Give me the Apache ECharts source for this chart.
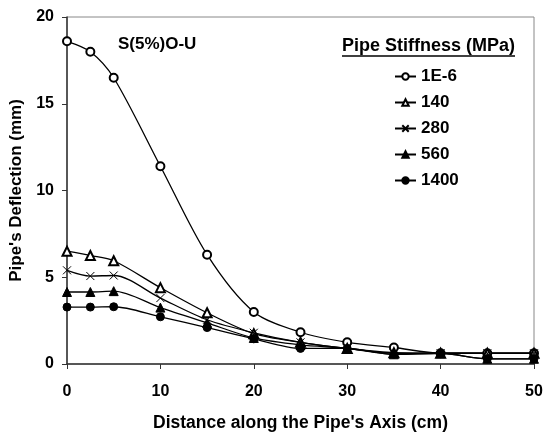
<!DOCTYPE html>
<html>
<head>
<meta charset="utf-8">
<script src="https://cdn.jsdelivr.net/npm/echarts@6/dist/echarts.min.js"></script>
<style>
  html, body { margin: 0; padding: 0; background: #fff; }
  #chart { width: 544px; height: 432px; }
</style>
</head>
<body>
<div id="chart"></div>
<script>
// distance along the pipe axis (cm)
var xData = [0, 2.5, 5, 10, 15, 20, 25, 30, 35, 40, 45, 50];
// deflection (mm) per pipe stiffness
var s1e6 = [18.6, 18.0, 16.5, 11.4, 6.3, 3.0, 1.83, 1.25, 0.95, 0.62, 0.62, 0.62];
var s140 = [6.5, 6.25, 5.95, 4.4, 2.95, 1.75, 1.25, 0.9, 0.65, 0.62, 0.62, 0.62];
var s280 = [5.4, 5.07, 5.1, 3.8, 2.55, 1.8, 1.25, 0.9, 0.62, 0.62, 0.62, 0.62];
var s560 = [4.15, 4.15, 4.2, 3.25, 2.37, 1.5, 1.1, 0.9, 0.56, 0.62, 0.3, 0.3];
var s1400 = [3.28, 3.28, 3.3, 2.72, 2.1, 1.45, 0.9, 0.9, 0.56, 0.62, 0.3, 0.3];
var names = ["1E-6", "140", "280", "560", "1400"];

var font = "'Liberation Sans', Arial, sans-serif";
var crossPath = "path://M0,0L10,10M10,0L0,10";

function pairs(ys) {
  return ys.map(function (y, i) {
    return [xData[i], y];
  });
}

function makeSeries(name, ys, symbol, size) {
  return {
    name: name,
    type: "line",
    smooth: 0.3,
    data: pairs(ys),
    symbol: symbol,
    symbolSize: size,
    showSymbol: true,
    lineStyle: { color: "#000", width: 1.3 },
    itemStyle: { color: "#000", borderColor: "#000", borderWidth: 1 },
    emphasis: { disabled: true },
  };
}

var chart = echarts.init(document.getElementById("chart"));
var option = {
  animation: false,
  title: {
    text: "S(5%)O-U",
    left: 113,
    top: 31,
    textStyle: { fontFamily: font, fontSize: 17, fontWeight: "bold", color: "#000" },
  },
  legend: {
    orient: "vertical",
    left: 389,
    top: 63,
    itemWidth: 21,
    itemHeight: 8,
    itemGap: 9,
    data: names,
    textStyle: { fontFamily: font, fontSize: 17, fontWeight: "bold", color: "#000" },
  },
  grid: {
    left: 67,
    right: 10,
    top: 17,
    bottom: 68,
    outerBoundsMode: "none",
    show: true,
    borderColor: "#888",
    borderWidth: 1,
  },
  xAxis: {
    type: "value",
    min: 0,
    max: 50,
    interval: 10,
    name: "Distance along the Pipe's Axis (cm)",
    nameLocation: "middle",
    nameGap: 50,
    nameTextStyle: { fontFamily: font, fontSize: 17.5, fontWeight: "bold", color: "#000" },
    axisLine: { lineStyle: { color: "#333", width: 1.5 } },
    axisTick: { show: true, length: 5, lineStyle: { color: "#333" } },
    axisLabel: { fontFamily: font, fontSize: 16, fontWeight: "bold", color: "#000", margin: 20 },
    splitLine: { show: false },
  },
  yAxis: {
    type: "value",
    min: 0,
    max: 20,
    interval: 5,
    name: "Pipe's Deflection (mm)",
    nameLocation: "middle",
    nameRotate: 90,
    nameGap: 33,
    nameTextStyle: { fontFamily: font, fontSize: 17, fontWeight: "bold", color: "#000" },
    axisLine: { show: true, lineStyle: { color: "#333", width: 1.5 } },
    axisTick: { show: true, length: 5, lineStyle: { color: "#333" } },
    axisLabel: { fontFamily: font, fontSize: 16, fontWeight: "bold", color: "#000", margin: 13 },
    splitLine: { show: false },
  },
  graphic: [
    {
      type: "text",
      left: 342,
      top: 37,
      style: {
        text: "Pipe Stiffness (MPa)",
        font: "bold 18px " + font,
        fill: "#000",
      },
    },
    {
      type: "line",
      shape: { x1: 342, y1: 56, x2: 515, y2: 56 },
      style: { stroke: "#000", lineWidth: 1.5 },
    },
  ],
  series: [
    makeSeries(names[0], s1e6, "emptyCircle", 8),
    makeSeries(names[1], s140, "emptyTriangle", 9),
    makeSeries(names[2], s280, crossPath, 8),
    makeSeries(names[3], s560, "triangle", 9),
    makeSeries(names[4], s1400, "circle", 8),
  ],
};
chart.setOption(option);
</script>
</body>
</html>
